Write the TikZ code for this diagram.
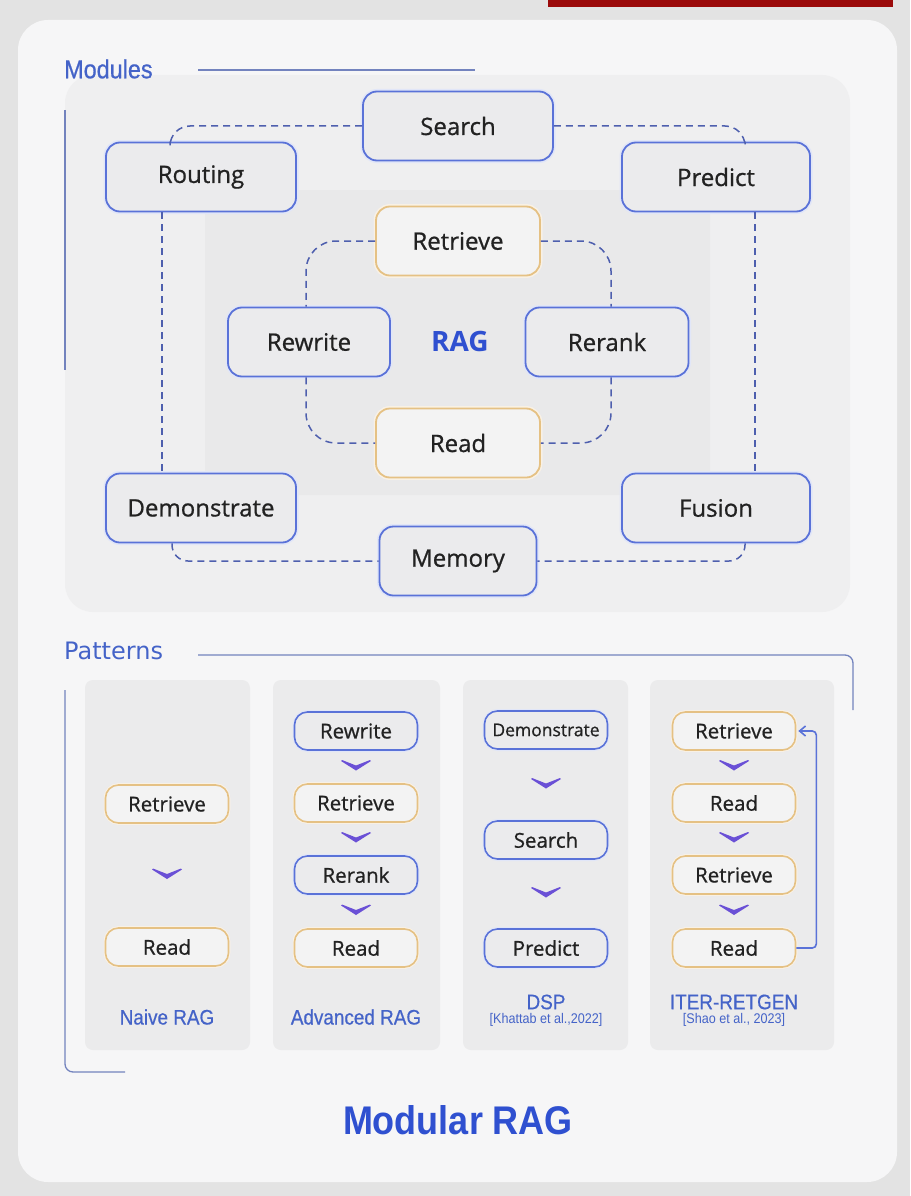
\documentclass[tikz,border=0pt]{standalone}
\usepackage{fontspec}
\setmainfont{Open Sans}
\newfontfamily\nodefont{Open Sans}[FakeBold=0.8]
\newfontfamily\lblfont[FakeStretch=0.9]{Liberation Sans}
\newfontfamily\lblfontb[FakeStretch=0.9,FakeBold=0.6]{Liberation Sans}
\newfontfamily\patfont{DejaVu Sans}
\usetikzlibrary{arrows.meta,calc}
\definecolor{outerbg}{HTML}{E3E3E3}
\definecolor{redbar}{HTML}{9B0A0A}
\definecolor{cardbg}{HTML}{F6F6F7}
\definecolor{modpanel}{HTML}{EFEFF0}
\definecolor{ragpanel}{HTML}{E9E9EA}
\definecolor{colpanel}{HTML}{EBEBEC}
\definecolor{nodefill}{HTML}{EBEBED}
\definecolor{orfill}{HTML}{F3F3F3}
\definecolor{bluebd}{HTML}{5A72D8}
\definecolor{orangebd}{HTML}{E5C184}
\definecolor{dashcol}{HTML}{4E5FAE}
\definecolor{guidecol}{HTML}{7383BE}
\definecolor{lblblue}{HTML}{4463C8}
\definecolor{chevcol}{HTML}{6A50D6}
\definecolor{titleblue}{HTML}{2F50D0}
\definecolor{txt}{HTML}{222222}
\tikzset{
  bignode/.style={draw=bluebd, line width=1.8pt, fill=nodefill, rounded corners=14pt,
    minimum height=69pt, text=txt, font=\nodefont\fontsize{24}{28}\selectfont,
    preaction={draw=bluebd!18, line width=5pt}},
  bigor/.style={bignode, draw=orangebd, fill=orfill, preaction={draw=orangebd!22, line width=5pt}},
  smallnode/.style={draw=bluebd, line width=1.6pt, fill=nodefill, rounded corners=13pt,
    minimum height=38pt, minimum width=123pt, text=txt, font=\nodefont\fontsize{20.5}{24}\selectfont,
    preaction={draw=bluebd!18, line width=4pt}},
  smallor/.style={smallnode, draw=orangebd, fill=orfill, preaction={draw=orangebd!22, line width=4pt}},
  dashline/.style={draw=dashcol, line width=1.5pt, dash pattern=on 7pt off 5pt},
  guide/.style={draw=guidecol, line width=1.3pt},
  collabel/.style={text=lblblue, font=\lblfontb\fontsize{21}{24}\selectfont, inner sep=0pt},
  citelabel/.style={text=lblblue, font=\lblfont\fontsize{14}{16}\selectfont, inner sep=0pt},
  chev/.pic={\fill[chevcol] (-15,-6) -- (0,3.5) -- (15,-6) -- (14,-7) -- (0,-1.5) -- (-14,-7) -- cycle;},
}
\begin{document}
\begin{tikzpicture}[x=1pt,y=-1pt]
\useasboundingbox (0,0) rectangle (910,1196);
\fill[outerbg] (0,0) rectangle (910,1196);
\fill[redbar] (548,0) rectangle (893,7);
\fill[cardbg, rounded corners=30pt] (18,20) rectangle (897,1182);

% Modules panel
\fill[modpanel, rounded corners=28pt] (65,75) rectangle (850,612);
\fill[ragpanel, rounded corners=4pt] (205,190) rectangle (710,495);

\node[text=lblblue, font=\lblfontb\fontsize{26}{28}\selectfont, anchor=west, inner sep=0pt] (modlbl) at (64,69) {Modules};
\coordinate (ml1) at (198,70);
\coordinate (ml2) at (475,70);
\draw[guide] (ml1) -- (ml2);
\coordinate (mv1) at (65,110);
\coordinate (mv2) at (65,370);
\draw[guide] (mv1) -- (mv2);

% outer ring
\node[bignode, minimum width=190pt] (search) at (458,126) {Search};
\node[bignode, minimum width=190pt] (routing) at (201,177) {Routing};
\node[bignode, minimum width=188pt] (predict) at (716,177) {Predict};
\node[bignode, minimum width=190pt] (demo) at (201,508) {Demonstrate};
\node[bignode, minimum width=188pt] (fusion) at (716,508) {Fusion};
\node[bignode, minimum width=157pt] (memory) at (458,561) {Memory};

% inner ring
\node[bigor, minimum width=164pt] (retrieve) at (458,241) {Retrieve};
\node[bignode, minimum width=162pt] (rewrite) at (309,342) {Rewrite};
\node[bignode, minimum width=163pt] (rerank) at (607,342) {Rerank};
\node[bigor, minimum width=164pt] (read) at (458,443) {Read};
\node[text=titleblue, font=\bfseries\fontsize{28}{32}\selectfont] (rag) at (460,341) {RAG};

% outer dashed
\draw[dashline, rounded corners=20pt] (search.west) -| ([xshift=-31pt]routing.north);
\draw[dashline, rounded corners=20pt] (search.east) -| ([xshift=29pt]predict.north);
\draw[dashline] ([xshift=-39pt]routing.south) -- ([xshift=-39pt]demo.north);
\draw[dashline] ([xshift=39pt]predict.south) -- ([xshift=39pt]fusion.north);
\draw[dashline, rounded corners=16pt] ([xshift=-29pt]demo.south) |- (memory.west);
\draw[dashline, rounded corners=16pt] ([xshift=29pt]fusion.south) |- (memory.east);

% inner dashed
\draw[dashline, rounded corners=30pt] (retrieve.west) -| ([xshift=-3pt]rewrite.north);
\draw[dashline, rounded corners=30pt] (retrieve.east) -| ([xshift=4pt]rerank.north);
\draw[dashline, rounded corners=30pt] ([xshift=-3pt]rewrite.south) |- (read.west);
\draw[dashline, rounded corners=30pt] ([xshift=4pt]rerank.south) |- (read.east);

% Patterns
\node[text=lblblue, font=\patfont\fontsize{24}{28}\selectfont, anchor=west, inner sep=0pt] (patlbl) at (64,651) {Patterns};
\coordinate (pl1) at (198,655);
\coordinate (pl2) at (853,655);
\coordinate (pl3) at (853,710);
\draw[guide, rounded corners=8pt] (pl1) -- (pl2) -- (pl3);
\coordinate (pb1) at (65,690);
\coordinate (pb2) at (65,1072);
\coordinate (pb3) at (125,1072);
\draw[guide, rounded corners=8pt] (pb1) -- (pb2) -- (pb3);

\fill[colpanel, rounded corners=8pt] (85,680) rectangle (250,1050);
\fill[colpanel, rounded corners=8pt] (273,680) rectangle (440,1050);
\fill[colpanel, rounded corners=8pt] (463,680) rectangle (628,1050);
\fill[colpanel, rounded corners=8pt] (650,680) rectangle (834,1050);

% Naive RAG
\node[smallor] (n1) at (167,804) {Retrieve};
\node[smallor] (n2) at (167,947) {Read};
\path ($(n1.south)!0.5!(n2.north)$) pic{chev};
\node[collabel] (nl) at (167,1017) {Naive RAG};

% Advanced RAG
\node[smallnode] (a1) at (356,731) {Rewrite};
\node[smallor] (a2) at (356,803) {Retrieve};
\node[smallnode] (a3) at (356,875) {Rerank};
\node[smallor] (a4) at (356,948) {Read};
\path ($(a1.south)!0.5!(a2.north)$) pic{chev};
\path ($(a2.south)!0.5!(a3.north)$) pic{chev};
\path ($(a3.south)!0.5!(a4.north)$) pic{chev};
\node[collabel] (al) at (356,1017) {Advanced RAG};

% DSP
\node[smallnode, font=\nodefont\fontsize{17.5}{20}\selectfont] (d1) at (546,730) {Demonstrate};
\node[smallnode] (d2) at (546,840) {Search};
\node[smallnode] (d3) at (546,948) {Predict};
\path ($(d1.south)!0.5!(d2.north)$) pic{chev};
\path ($(d2.south)!0.5!(d3.north)$) pic{chev};
\node[collabel] (dl) at (546,1002) {DSP};
\node[citelabel] (dc) at (546,1020) {[Khattab et al.,2022]};

% ITER-RETGEN
\node[smallor] (i1) at (734,731) {Retrieve};
\node[smallor] (i2) at (734,803) {Read};
\node[smallor] (i3) at (734,875) {Retrieve};
\node[smallor] (i4) at (734,948) {Read};
\path ($(i1.south)!0.5!(i2.north)$) pic{chev};
\path ($(i2.south)!0.5!(i3.north)$) pic{chev};
\path ($(i3.south)!0.5!(i4.north)$) pic{chev};
\draw[draw=bluebd, line width=1.6pt, rounded corners=4pt, -{Straight Barb[length=6pt,width=10pt]}]
  (i4.east) -- ([xshift=20pt]i4.east) |- ([xshift=2pt]i1.east);
\node[collabel] (il) at (734,1002) {ITER-RETGEN};
\node[citelabel] (ic) at (734,1020) {[Shao et al., 2023]};

% Title
\node[text=titleblue, font=\lblfont\bfseries\fontsize{40}{44}\selectfont] (title) at (458,1120) {Modular RAG};
\end{tikzpicture}
\end{document}
